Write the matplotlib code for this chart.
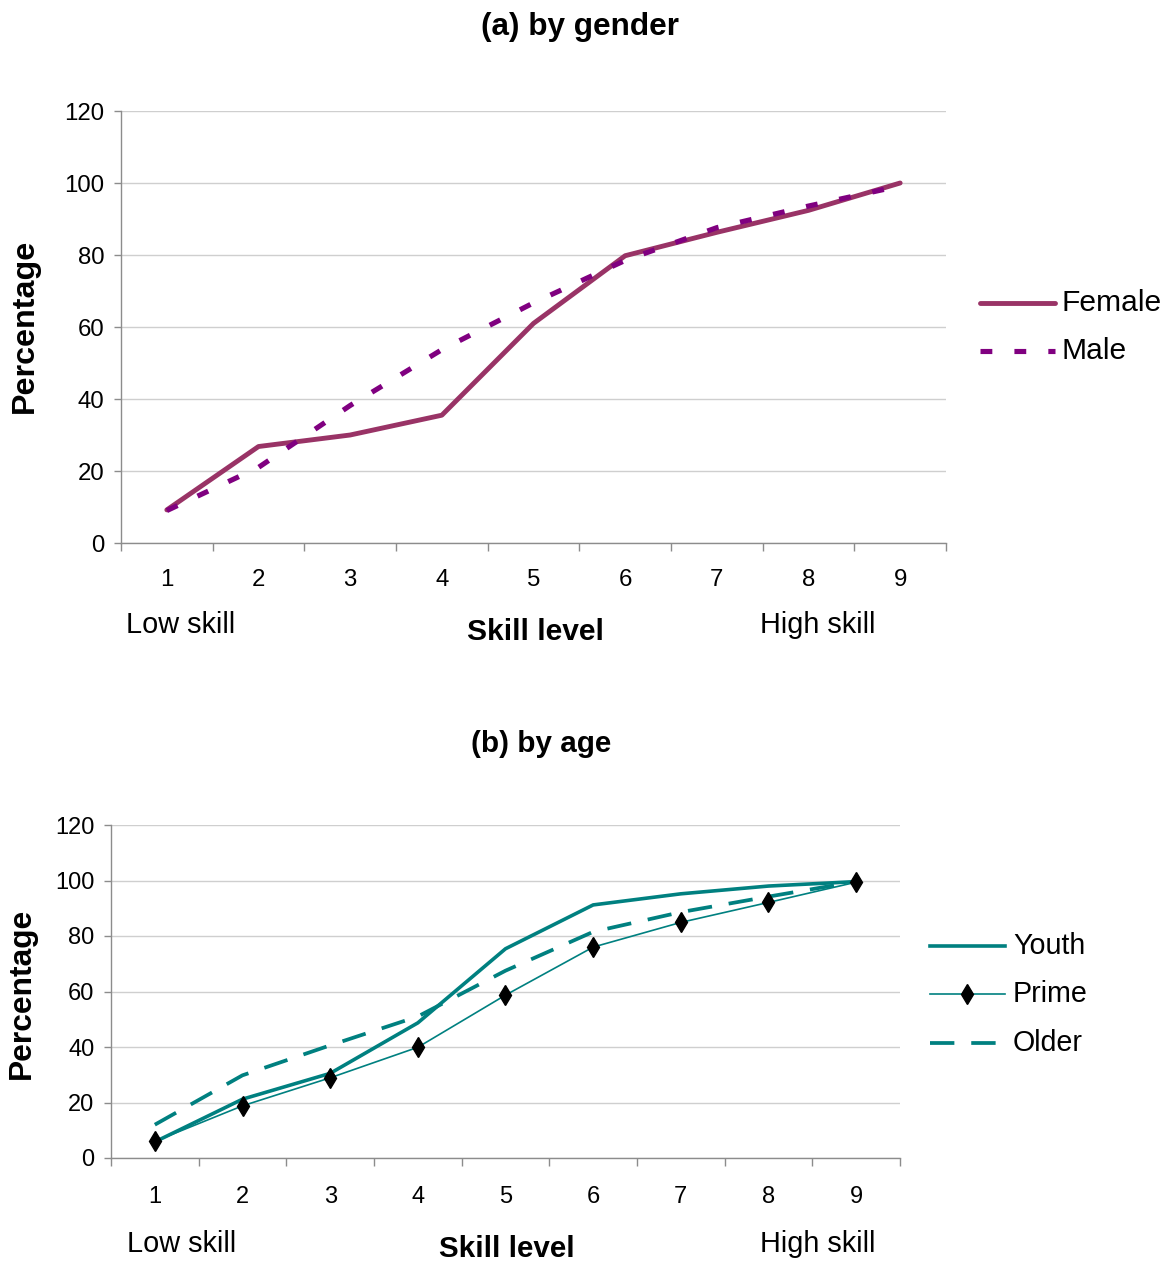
import matplotlib
matplotlib.use("Agg")
import matplotlib.pyplot as plt
import numpy as np

plt.rcParams['font.family'] = ['Liberation Sans', 'DejaVu Sans']

skill = [1, 2, 3, 4, 5, 6, 7, 8, 9]
y_ticks = [0, 20, 40, 60, 80, 100, 120]

# (a) by gender
female = [9.2, 26.8, 30.0, 35.5, 61.0, 79.8, 86.3, 92.4, 100.0]
male = [9.0, 21.0, 38.2, 53.7, 66.7, 78.5, 87.6, 93.6, 99.2]

# (b) by age
youth = [5.8, 21.2, 30.5, 48.7, 75.4, 91.2, 95.2, 98.0, 99.6]
prime = [6.0, 18.8, 28.9, 39.9, 58.7, 76.0, 84.9, 92.1, 99.4]
older = [12.0, 29.8, 40.6, 51.0, 67.5, 81.5, 88.6, 94.2, 99.6]

W, H = 1170, 1263
fig = plt.figure(figsize=(W / 100, H / 100), dpi=100)


def px(x, y):
    return x / W, 1 - y / H


def style_axes(ax, tick_fs, xpad):
    ax.set_xlim(0.5, 9.5)
    ax.set_ylim(0, 120)
    ax.set_yticks(y_ticks)
    ax.set_xticks(skill)
    ax.set_xticks(np.arange(0.5, 10.0, 1.0), minor=True)
    ax.tick_params(axis='x', which='major', length=0, pad=xpad, labelsize=tick_fs)
    ax.tick_params(axis='x', which='minor', length=6, color='#8c8c8c', width=1)
    ax.tick_params(axis='y', which='major', length=5, color='#8c8c8c', width=1,
                   pad=7, labelsize=tick_fs)
    ax.yaxis.grid(True, color='#cfcfcf', linewidth=1)
    ax.set_axisbelow(True)
    for s in ('top', 'right'):
        ax.spines[s].set_visible(False)
    for s in ('left', 'bottom'):
        ax.spines[s].set_color('#8c8c8c')
        ax.spines[s].set_linewidth(1)


female_style = dict(color='#993366', linewidth=3.5, solid_capstyle='round')
male_style = dict(color='#800080', linewidth=3.7, linestyle=(0, (2.3, 4.3)),
                  dash_capstyle='butt')

# ---- panel (a) ----
l, b = px(121, 543)
r, t = px(946, 111)
ax1 = fig.add_axes([l, b, r - l, t - b])
style_axes(ax1, 17.3, 19)
ax1.plot(skill, female, label='Female', zorder=3, **female_style)
ax1.plot(skill, male, label='Male', zorder=4, **male_style)

fig.text(*px(580, 27), '(a) by gender', ha='center', va='center',
         fontsize=22.7, fontweight='bold')
fig.text(*px(25, 326), 'Percentage', ha='center', va='center', rotation=90,
         fontsize=23.2, fontweight='bold')
fig.text(*px(126, 625), 'Low skill', ha='left', va='center', fontsize=20.8)
fig.text(*px(535, 632), 'Skill level', ha='center', va='center',
         fontsize=21.6, fontweight='bold')
fig.text(*px(875, 625), 'High skill', ha='right', va='center', fontsize=20.8)

# legend (a)
lx0, lx1, tx = 980, 1055, 1062
for yy, lab, kw in [(303, 'Female', female_style), (351, 'Male', male_style)]:
    x0, y0 = px(lx0, yy)
    x1, _ = px(lx1, yy)
    fig.add_artist(plt.Line2D([x0, x1], [y0, y0], transform=fig.transFigure, **kw))
    fig.text(*px(tx, yy), lab, ha='left', va='center', fontsize=21.6)

# ---- panel (b) ----
teal = '#008080'
youth_style = dict(color=teal, linewidth=2.6)
prime_style = dict(color=teal, linewidth=1.2, marker='d', markersize=10,
                   markerfacecolor='black', markeredgecolor='black')
older_style = dict(color=teal, linewidth=2.7, linestyle=(0, (6.5, 4.5)),
                   dash_capstyle='butt')

l, b = px(111, 1158)
r, t = px(900, 825)
ax2 = fig.add_axes([l, b, r - l, t - b])
style_axes(ax2, 17.0, 20)
ax2.plot(skill, youth, label='Youth', zorder=3, **youth_style)
ax2.plot(skill, prime, label='Prime', zorder=5, **prime_style)
ax2.plot(skill, older, label='Older', zorder=4, **older_style)

fig.text(*px(541, 744), '(b) by age', ha='center', va='center',
         fontsize=21.3, fontweight='bold')
fig.text(*px(22, 993), 'Percentage', ha='center', va='center', rotation=90,
         fontsize=22.9, fontweight='bold')
fig.text(*px(127, 1244), 'Low skill', ha='left', va='center', fontsize=20.8)
fig.text(*px(507, 1249), 'Skill level', ha='center', va='center',
         fontsize=21.3, fontweight='bold')
fig.text(*px(875, 1244), 'High skill', ha='right', va='center', fontsize=20.8)

# legend (b)
lx0, lx1, tx = 930, 1005, 1013
legend_b = [
    (946, 'Youth', youth_style),
    (994, 'Prime', dict(prime_style, markevery=[1])),
    (1043, 'Older', older_style),
]
for yy, lab, kw in legend_b:
    x0, y0 = px(lx0, yy)
    x1, _ = px(lx1, yy)
    xm = (x0 + x1) / 2
    fig.add_artist(plt.Line2D([x0, xm, x1], [y0, y0, y0],
                              transform=fig.transFigure, **kw))
    fig.text(*px(tx, yy), lab, ha='left', va='center', fontsize=20.6)

fig.savefig('out.png', dpi=100)
